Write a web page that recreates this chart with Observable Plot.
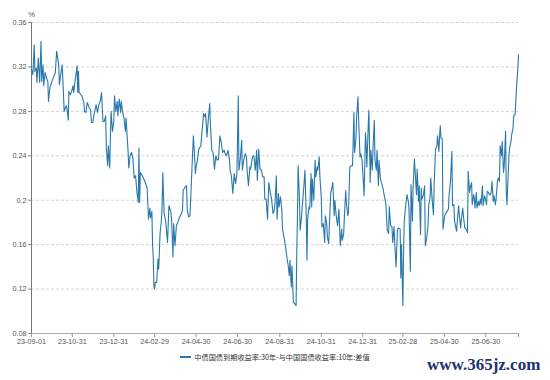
<!DOCTYPE html>
<html>
<head>
<meta charset="utf-8">
<script src="https://cdn.jsdelivr.net/npm/d3@7"></script>
<script src="https://cdn.jsdelivr.net/npm/@observablehq/plot@0.6"></script>
<style>
  body { margin:0; background:#fff; width:550px; height:380px; overflow:hidden; position:relative; }
  #chart { position:absolute; left:0; top:0; }
  #legend { position:absolute; left:0; top:351px; width:550px; text-align:center;
            font-family:"Noto Sans CJK SC", sans-serif; font-size:7.2px; color:#333; line-height:12px; white-space:nowrap; }
  #legend .sw { display:inline-block; width:11px; height:2px; background:#2878aa; vertical-align:middle; margin-right:3px; position:relative; top:-1px; }
  #wm { position:absolute; left:427px; top:355px; font:bold 17px "Liberation Serif", serif; color:#1d3272; white-space:nowrap; }
</style>
</head>
<body>
<div id="chart"></div>
<div id="legend"><span class="sw"></span><span id="legtxt"></span></div>
<div id="wm"></div>
<script>
// ---- data ----
const startDate = "2023-09-01";               // first observation
const seriesName = "中债国债到期收益率:30年-与中国国债收益率:10年:差值";
const unitLabel = "%";
const watermark = "www.365jz.com";

// observation dates expressed as days after startDate
const obsDay = [
  0,2,4,5,7,8,10,12,14,15,17,18,20,22,24,25,27,30,35,37,40,41,45,46,48,51,52,54,55,57,
  59,61,62,64,67,68,69,70,74,77,78,80,82,85,87,88,90,92,95,97,99,101,103,105,107,109,110,112,113,115,
  116,117,119,121,122,124,126,127,129,131,132,134,136,138,139,142,143,145,147,149,
  151,153,155,157,158,159,160,163,166,170,172,174,175,177,178,179,180,
  181,182,184,186,187,189,191,192,193,195,197,198,200,202,205,206,208,209,211,213,
  215,218,219,222,223,226,228,229,231,233,235,236,238,239,241,242,244,246,249,251,
  253,255,256,258,260,262,263,265,267,269,271,273,275,277,279,281,283,286,288,289,
  291,292,294,296,298,300,302,304,305,307,309,310,312,314,316,317,319,321,322,325,
  327,329,331,332,334,336,338,340,342,343,345,347,349,351,353,355,357,
  358,360,361,363,364,366,368,369,372,374,376,377,379,380,382,383,385,387,389,390,
  391,392,394,395,397,398,400,402,404,405,406,408,409,411,412,413,415,417,418,420,
  421,423,424,426,427,429,431,432,434,435,437,438,440,442,443,445,446,448,450,452,
  454,456,457,459,460,462,463,465,466,468,470,472,474,475,477,478,480,481,483,484,
  486,488,489,491,492,493,495,496,498,499,501,502,504,505,507,508,510,511,513,515,
  517,519,521,523,525,526,528,530,531,533,534,536,538,
  539,542,543,544,546,547,548,550,552,554,555,557,558,560,561,563,564,566,567,569,
  570,572,573,574,576,578,579,581,583,584,586,587,589,591,592,594,596,597,599,600,
  601,602,604,605,607,608,610,613,614,616,618,619,621,622,623,625,626,628,629,631,
  632,634,635,637,639,641,642,644,645,647,648,650,651,652,654,655,657,658,660,661,
  663,664,666,667,669,670,672,673,675,676,677,679,680,682,683,685,686,688,689,691,
  692,694,695,697,698,699,701,702,703,705,706,708,709,711,713,715,716
];

// 30Y - 10Y spread, %
const spread = [
  0.318,0.313,0.340,0.316,0.319,0.306,0.328,0.306,0.343,0.307,0.322,0.303,0.315,0.310,0.307,0.289,0.301,0.307,0.315,0.334,
  0.322,0.304,0.322,0.310,0.280,0.285,0.283,0.272,0.298,0.295,0.298,0.303,0.297,0.307,0.321,0.297,0.316,0.297,0.294,0.288,
  0.280,0.279,0.288,0.283,0.281,0.270,0.270,0.277,0.286,0.279,0.286,0.289,0.297,0.271,0.271,0.276,0.247,0.231,0.249,0.229,
  0.256,0.280,0.262,0.271,0.294,0.280,0.289,0.276,0.291,0.279,0.289,0.279,0.274,0.262,0.274,0.244,0.229,0.240,0.243,0.238,
  0.220,0.222,0.207,0.198,0.247,0.198,0.225,0.222,0.218,0.211,0.183,0.193,0.184,0.190,0.160,0.148,0.123,
  0.120,0.126,0.126,0.147,0.138,0.170,0.182,0.194,0.225,0.188,0.182,0.176,0.162,0.195,0.189,0.182,0.149,0.179,0.159,0.177,
  0.180,0.185,0.186,0.191,0.209,0.212,0.213,0.191,0.185,0.186,0.215,0.230,0.258,0.248,0.224,0.230,0.236,0.246,0.249,0.264,
  0.278,0.275,0.278,0.257,0.273,0.287,0.269,0.245,0.243,0.228,0.240,0.236,0.237,0.258,0.252,0.243,0.245,0.240,0.242,0.245,
  0.237,0.227,0.221,0.206,0.224,0.215,0.224,0.294,0.227,0.237,0.254,0.227,0.236,0.242,0.239,0.227,0.213,0.230,0.228,0.239,
  0.240,0.227,0.245,0.218,0.246,0.228,0.227,0.221,0.221,0.201,0.201,0.183,0.216,0.207,0.201,0.188,0.191,
  0.197,0.222,0.183,0.206,0.194,0.203,0.192,0.174,0.164,0.156,0.146,0.143,0.132,0.146,0.122,0.141,0.108,0.107,0.105,0.153,
  0.185,0.231,0.200,0.173,0.185,0.194,0.209,0.227,0.185,0.146,0.183,0.194,0.192,0.224,0.194,0.219,0.200,0.236,0.221,0.230,
  0.227,0.239,0.221,0.203,0.176,0.179,0.162,0.186,0.179,0.167,0.161,0.179,0.207,0.212,0.216,0.186,0.200,0.186,0.177,0.192,
  0.159,0.174,0.164,0.170,0.185,0.209,0.197,0.186,0.189,0.230,0.231,0.231,0.279,0.243,0.255,0.275,0.293,0.272,0.239,0.242,
  0.236,0.215,0.204,0.261,0.251,0.230,0.266,0.281,0.216,0.245,0.227,0.245,0.272,0.236,0.227,0.245,0.213,0.236,0.219,0.215,
  0.210,0.203,0.197,0.173,0.170,0.194,0.177,0.176,0.162,0.176,0.162,0.140,0.173,
  0.175,0.174,0.130,0.160,0.105,0.151,0.181,0.195,0.205,0.199,0.192,0.136,0.214,0.181,0.211,0.237,0.226,0.205,0.228,0.199,
  0.213,0.169,0.211,0.201,0.204,0.213,0.159,0.166,0.177,0.196,0.202,0.220,0.201,0.187,0.214,0.246,0.249,0.258,0.244,0.258,
  0.267,0.256,0.255,0.174,0.184,0.187,0.189,0.192,0.205,0.217,0.244,0.195,0.196,0.181,0.178,0.172,0.181,0.195,0.186,0.175,
  0.183,0.193,0.186,0.175,0.174,0.171,0.226,0.207,0.211,0.216,0.196,0.205,0.202,0.193,0.207,0.193,0.199,0.195,0.201,0.196,
  0.213,0.195,0.204,0.202,0.196,0.208,0.207,0.205,0.205,0.208,0.217,0.199,0.204,0.196,0.201,0.217,0.220,0.217,0.249,0.240,
  0.253,0.225,0.231,0.262,0.208,0.196,0.226,0.240,0.247,0.253,0.259,0.265,0.276,0.277,0.301,0.318,0.331
];

const xTickDates = ["2023-09-01","2023-10-31","2023-12-31","2024-02-29","2024-04-30","2024-06-30",
                    "2024-08-31","2024-10-31","2024-12-31","2025-02-28","2025-04-30","2025-06-30"];
const yTicks = [0.08,0.12,0.16,0.2,0.24,0.28,0.32,0.36];

// ---- build ----
const start = d3.utcParse("%Y-%m-%d")(startDate);
const data = obsDay.map((d, i) => ({date: d3.utcDay.offset(start, d), value: spread[i]}));
const end = data[data.length - 1].date;
const tickDates = xTickDates.map(d3.utcParse("%Y-%m-%d"));
const fmt = d3.utcFormat("%y-%m-%d");
const lineColor = "#2878aa";

const chart = Plot.plot({
  width: 550,
  height: 350,
  marginLeft: 31,
  marginRight: 32,
  marginTop: 22,
  marginBottom: 17,
  style: {fontFamily: '"Liberation Sans", Arial, sans-serif', fontSize: "7.2px", color: "#555", background: "transparent"},
  x: {type: "utc", domain: [start, end], label: null},
  y: {domain: [0.08, 0.36], label: null},
  marks: [
    Plot.gridY(yTicks, {stroke: "#d6d6d6", strokeOpacity: 1, strokeDasharray: "3,2"}),
    Plot.ruleY([0.08], {stroke: "#aaa"}),
    Plot.ruleX([start], {stroke: "#777"}),
    Plot.axisX(tickDates.concat([end]), {
      label: null, tickSize: 4, tickPadding: 1, stroke: "#999",
      tickFormat: d => (+d === +end ? "" : fmt(d))
    }),
    Plot.axisY(yTicks, {label: null, tickSize: 3, tickPadding: 2, stroke: "#888", tickFormat: d => String(+d.toFixed(2))}),
    Plot.lineY(data, {x: "date", y: "value", stroke: lineColor, strokeWidth: 1.1}),
    Plot.text([unitLabel], {frameAnchor: "top-left", dy: -10.5, textAnchor: "middle", fill: "#555", fontSize: 7.5})
  ]
});
document.getElementById("chart").appendChild(chart);
document.getElementById("legtxt").textContent = seriesName;
document.querySelector("#legend .sw").style.background = lineColor;
document.getElementById("wm").textContent = watermark;
</script>
</body>
</html>
